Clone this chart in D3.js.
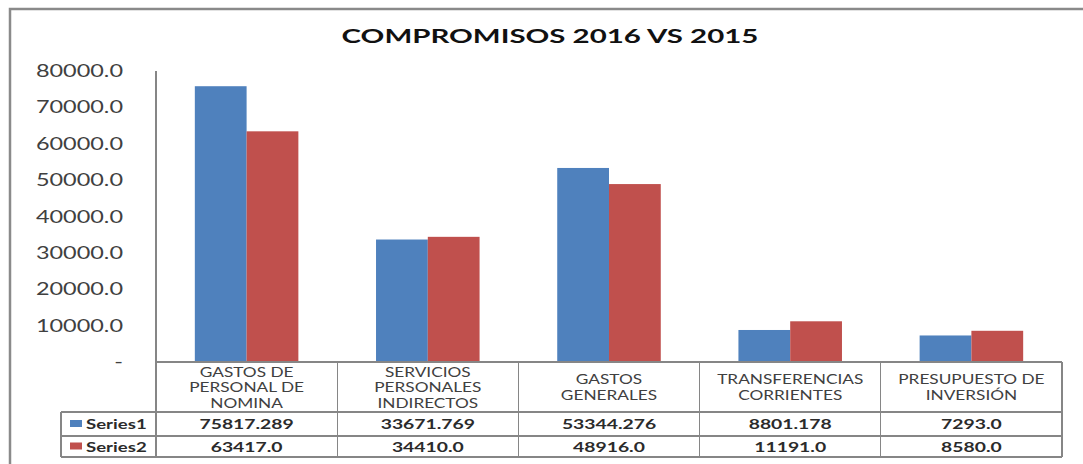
<!DOCTYPE html>
<html lang="es">
<head>
  <meta charset="UTF-8">
  <title>Compromisos 2016 vs 2015</title>
  <script src="https://d3js.org/d3.v7.min.js"></script>
  <style>
    body { margin: 0; background: #fff; }
    svg { display: block; font-family: Lato, "Open Sans", sans-serif; }
  </style>
</head>
<body>
  <div id="chart"></div>
  <script>
    const categories = [
      "GASTOS DE PERSONAL DE NOMINA",
      "SERVICIOS PERSONALES INDIRECTOS",
      "GASTOS GENERALES",
      "TRANSFERENCIAS CORRIENTES",
      "PRESUPUESTO DE INVERSIÓN"
    ];
    // how each category label wraps inside its table cell
    const categoryLines = [
      ["GASTOS DE", "PERSONAL DE", "NOMINA"],
      ["SERVICIOS", "PERSONALES", "INDIRECTOS"],
      ["GASTOS", "GENERALES"],
      ["TRANSFERENCIAS", "CORRIENTES"],
      ["PRESUPUESTO DE", "INVERSIÓN"]
    ];
    const seriesNames = ["Series1", "Series2"];
    const series1 = [75817.289, 33671.769, 53344.276, 8801.178, 7293.0];
    const series2 = [63417.0, 34410.0, 48916.0, 11191.0, 8580.0];
    const yTicks = [0, 10000, 20000, 30000, 40000, 50000, 60000, 70000, 80000];
    const colors = ["#4F81BD", "#C0504D"];

    const width = 1083, height = 464;
    const SX = 1.38; // the source picture is stretched sideways
    const axisColor = "#868686";
    const textColor = "#404040";

    const plot = { left: 156, right: 1062, top: 71, bottom: 362 };
    const rows = { legendLeft: 61, s1: 412, s2: 436, end: 457 };

    const svg = d3.select("#chart").append("svg")
      .attr("width", width)
      .attr("height", height);

    // helper: text stretched horizontally about its anchor
    function label(g, x, y, str, opts) {
      return g.append("text")
        .attr("transform", `translate(${x},${y}) scale(${opts.sx || SX},1)`)
        .attr("text-anchor", opts.anchor || "middle")
        .attr("font-size", opts.size)
        .attr("font-weight", opts.weight || "normal")
        .attr("fill", opts.fill || textColor)
        .text(str);
    }

    // outer chart border
    svg.append("rect")
      .attr("x", 10).attr("y", 9)
      .attr("width", 1100).attr("height", 500)
      .attr("fill", "none")
      .attr("stroke", "#8a8a8a")
      .attr("stroke-width", 2.5);

    label(svg, 550, 43, "COMPROMISOS 2016 VS 2015", { size: 19, sx: 1.55, weight: "bold", fill: "#111" });

    const x0 = d3.scaleBand()
      .domain(categories)
      .range([plot.left, plot.right])
      .padding(0);

    const x1 = d3.scaleBand()
      .domain(seriesNames)
      .range([0, x0.bandwidth()])
      .paddingInner(0)
      .paddingOuter(0.75);

    const y = d3.scaleLinear()
      .domain([0, 80000])
      .range([plot.bottom, plot.top]);

    const data = categories.map((c, i) => ({
      category: c,
      values: [
        { key: seriesNames[0], value: series1[i] },
        { key: seriesNames[1], value: series2[i] }
      ]
    }));

    // bars
    const groups = svg.append("g")
      .selectAll("g")
      .data(data)
      .join("g")
      .attr("transform", d => `translate(${x0(d.category)},0)`);

    groups.selectAll("rect")
      .data(d => d.values)
      .join("rect")
      .attr("x", d => x1(d.key))
      .attr("y", d => y(d.value))
      .attr("width", x1.bandwidth())
      .attr("height", d => y(0) - y(d.value))
      .attr("fill", (d, i) => colors[i]);

    // y axis labels
    const yg = svg.append("g");
    yTicks.forEach(t => {
      label(yg, 123, y(t) + 6, t === 0 ? "-" : t.toFixed(1), { size: 17, anchor: "end" });
    });

    // axis + data table grid
    const grid = svg.append("g")
      .attr("stroke", axisColor)
      .attr("stroke-width", 1.2)
      .attr("shape-rendering", "crispEdges");

    grid.append("line")
      .attr("x1", plot.left).attr("x2", plot.left)
      .attr("y1", plot.top).attr("y2", rows.end);
    grid.append("line")
      .attr("x1", plot.left).attr("x2", plot.right)
      .attr("y1", y(0)).attr("y2", y(0));
    [rows.s1, rows.s2, rows.end].forEach(ry => {
      grid.append("line")
        .attr("x1", rows.legendLeft).attr("x2", plot.right)
        .attr("y1", ry).attr("y2", ry);
    });
    grid.append("line")
      .attr("x1", rows.legendLeft).attr("x2", rows.legendLeft)
      .attr("y1", rows.s1).attr("y2", rows.end);
    categories.forEach(c => {
      const xr = x0(c) + x0.bandwidth();
      grid.append("line")
        .attr("x1", xr).attr("x2", xr)
        .attr("y1", y(0)).attr("y2", rows.end);
    });

    // category header cells
    const tg = svg.append("g");
    categories.forEach((c, i) => {
      const cx = x0(c) + x0.bandwidth() / 2;
      const lines = categoryLines[i];
      const lh = 15.5;
      const startY = (y(0) + rows.s1) / 2 - (lines.length - 1) * lh / 2 + 5;
      lines.forEach((ln, j) => {
        label(tg, cx, startY + j * lh, ln, { size: 12.5 });
      });
    });

    // value rows
    const fmt = v => Number.isInteger(v) ? v.toFixed(1) : String(v);
    [series1, series2].forEach((vals, s) => {
      const rowTop = s === 0 ? rows.s1 : rows.s2;
      const rowBot = s === 0 ? rows.s2 : rows.end;
      const cy = (rowTop + rowBot) / 2 + 5;
      categories.forEach((c, i) => {
        label(tg, x0(c) + x0.bandwidth() / 2, cy, fmt(vals[i]), { size: 14, weight: "bold", fill: "#2b2b2b" });
      });
      // legend key
      tg.append("rect")
        .attr("x", 70).attr("y", cy - 9)
        .attr("width", 12).attr("height", 7)
        .attr("fill", colors[s]);
      label(tg, 86, cy, seriesNames[s], { size: 13.5, weight: "bold", fill: "#2b2b2b", anchor: "start" });
    });
  </script>
</body>
</html>
